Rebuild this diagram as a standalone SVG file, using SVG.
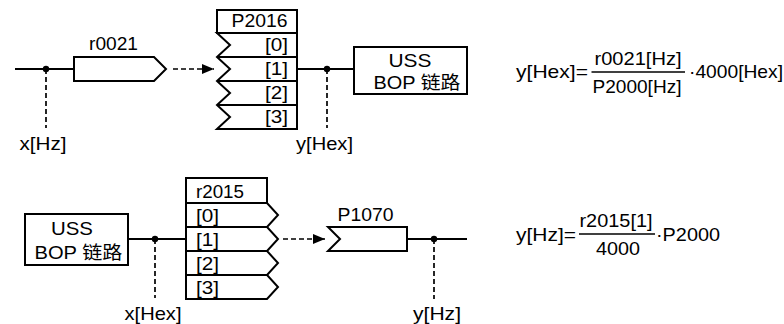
<svg xmlns="http://www.w3.org/2000/svg" width="784" height="324" viewBox="0 0 784 324">
<style>
text{font-family:"Liberation Sans","Noto Sans CJK SC",Arial,sans-serif;font-size:18.5px;fill:#000}
.box{fill:#fff;stroke:#000;stroke-width:2}
.ln{fill:none;stroke:#000;stroke-width:2}
.dash{fill:none;stroke:#000;stroke-width:1.7;stroke-dasharray:5 3}
.dot{fill:#000}
.bar{stroke:#000;stroke-width:1.6}
.e{text-anchor:end}
</style>
<defs>
<marker id="ah" markerUnits="userSpaceOnUse" markerWidth="12" markerHeight="10" refX="12" refY="5" orient="auto">
<path d="M0,0 L12,5 L0,10 z" fill="#000"/>
</marker>
</defs>

<g id="connectors">
<line class="ln" x1="15" y1="69" x2="74" y2="69"/>
<circle class="dot" cx="46" cy="69" r="3.2"/>
<line class="dash" x1="46" y1="69" x2="46" y2="128"/>
<line class="dash" x1="173" y1="69" x2="214" y2="69" marker-end="url(#ah)"/>
<line class="ln" x1="297" y1="69" x2="354" y2="69"/>
<circle class="dot" cx="327" cy="69" r="3.2"/>
<line class="dash" x1="327" y1="69" x2="327" y2="128"/>

<line class="ln" x1="128" y1="239" x2="186" y2="239"/>
<circle class="dot" cx="155" cy="239" r="3.2"/>
<line class="dash" x1="155" y1="239" x2="155" y2="298"/>
<line class="dash" x1="283" y1="239" x2="325" y2="239" marker-end="url(#ah)"/>
<line class="ln" x1="407" y1="239" x2="467" y2="239"/>
<circle class="dot" cx="434" cy="239" r="3.2"/>
<line class="dash" x1="434" y1="239" x2="434" y2="299"/>
</g>

<g id="label-xHz"><text x="19.5" y="150" textLength="47" lengthAdjust="spacingAndGlyphs">x[Hz]</text></g>
<g id="label-yHex"><text x="296" y="150" textLength="57" lengthAdjust="spacingAndGlyphs">y[Hex]</text></g>

<g id="r0021">
<path class="box" d="M74,57 L154,57 L166,69 L154,81 L74,81 Z"/>
<text x="89" y="50" textLength="49" lengthAdjust="spacingAndGlyphs">r0021</text>
</g>

<g id="P2016">
<rect class="box" x="217" y="10" width="80" height="23"/>
<path class="box" d="M217,33 L297,33 L297,129 L217,129 L230,117 L217,105 L230,93 L217,81 L230,69 L217,57 L230,45 Z"/>
<path class="ln" d="M217,57 H297 M217,81 H297 M217,105 H297"/>
<text x="231.5" y="26.5" textLength="56" lengthAdjust="spacingAndGlyphs">P2016</text>
<text class="e" x="288" y="50.5" textLength="23" lengthAdjust="spacingAndGlyphs">[0]</text>
<text class="e" x="288" y="74.5" textLength="23" lengthAdjust="spacingAndGlyphs">[1]</text>
<text class="e" x="288" y="98.5" textLength="23" lengthAdjust="spacingAndGlyphs">[2]</text>
<text class="e" x="288" y="122.5" textLength="23" lengthAdjust="spacingAndGlyphs">[3]</text>
</g>

<g id="uss-top">
<rect class="box" x="354" y="47" width="113" height="47"/>
<text x="388.5" y="67" textLength="43" lengthAdjust="spacingAndGlyphs">USS</text>
<text x="373.5" y="88.5" textLength="87" lengthAdjust="spacingAndGlyphs">BOP 链路</text>
</g>

<g id="formula-top">
<text x="516" y="78" textLength="72" lengthAdjust="spacingAndGlyphs">y[Hex]=</text>
<text x="594.5" y="65" textLength="87" lengthAdjust="spacingAndGlyphs">r0021[Hz]</text>
<line class="bar" x1="591.5" y1="72" x2="685" y2="72"/>
<text x="592.5" y="93" textLength="89" lengthAdjust="spacingAndGlyphs">P2000[Hz]</text>
<text x="689" y="78" textLength="94" lengthAdjust="spacingAndGlyphs">·4000[Hex]</text>
</g>

<g id="uss-bottom">
<rect class="box" x="25" y="214" width="103" height="51"/>
<text x="51" y="234.5" textLength="42" lengthAdjust="spacingAndGlyphs">USS</text>
<text x="34.5" y="258.5" textLength="88" lengthAdjust="spacingAndGlyphs">BOP 链路</text>
</g>

<g id="label-xHex"><text x="124.5" y="319.5" textLength="57" lengthAdjust="spacingAndGlyphs">x[Hex]</text></g>
<g id="label-yHz"><text x="413" y="319.5" textLength="48" lengthAdjust="spacingAndGlyphs">y[Hz]</text></g>

<g id="r2015">
<rect class="box" x="186" y="178" width="81" height="25"/>
<path class="box" d="M186,203 L267,203 L278,215 L267,227 L278,239 L267,251 L278,263 L267,275 L278,287 L267,299 L186,299 Z"/>
<path class="ln" d="M186,227 H267 M186,251 H267 M186,275 H267"/>
<text x="196" y="197.5" textLength="48" lengthAdjust="spacingAndGlyphs">r2015</text>
<text x="196" y="221.5" textLength="23" lengthAdjust="spacingAndGlyphs">[0]</text>
<text x="196" y="245.5" textLength="23" lengthAdjust="spacingAndGlyphs">[1]</text>
<text x="196" y="269.5" textLength="23" lengthAdjust="spacingAndGlyphs">[2]</text>
<text x="196" y="293.5" textLength="23" lengthAdjust="spacingAndGlyphs">[3]</text>
</g>

<g id="P1070">
<path class="box" d="M328,227 L407,227 L407,251 L328,251 L340,239 Z"/>
<text x="337.5" y="221" textLength="56" lengthAdjust="spacingAndGlyphs">P1070</text>
</g>

<g id="formula-bottom">
<text x="516" y="240.5" textLength="60" lengthAdjust="spacingAndGlyphs">y[Hz]=</text>
<text x="579.5" y="227" textLength="73" lengthAdjust="spacingAndGlyphs">r2015[1]</text>
<line class="bar" x1="579" y1="234" x2="655" y2="234"/>
<text x="596" y="254.5" textLength="44" lengthAdjust="spacingAndGlyphs">4000</text>
<text x="656" y="240.5" textLength="64" lengthAdjust="spacingAndGlyphs">·P2000</text>
</g>
</svg>
